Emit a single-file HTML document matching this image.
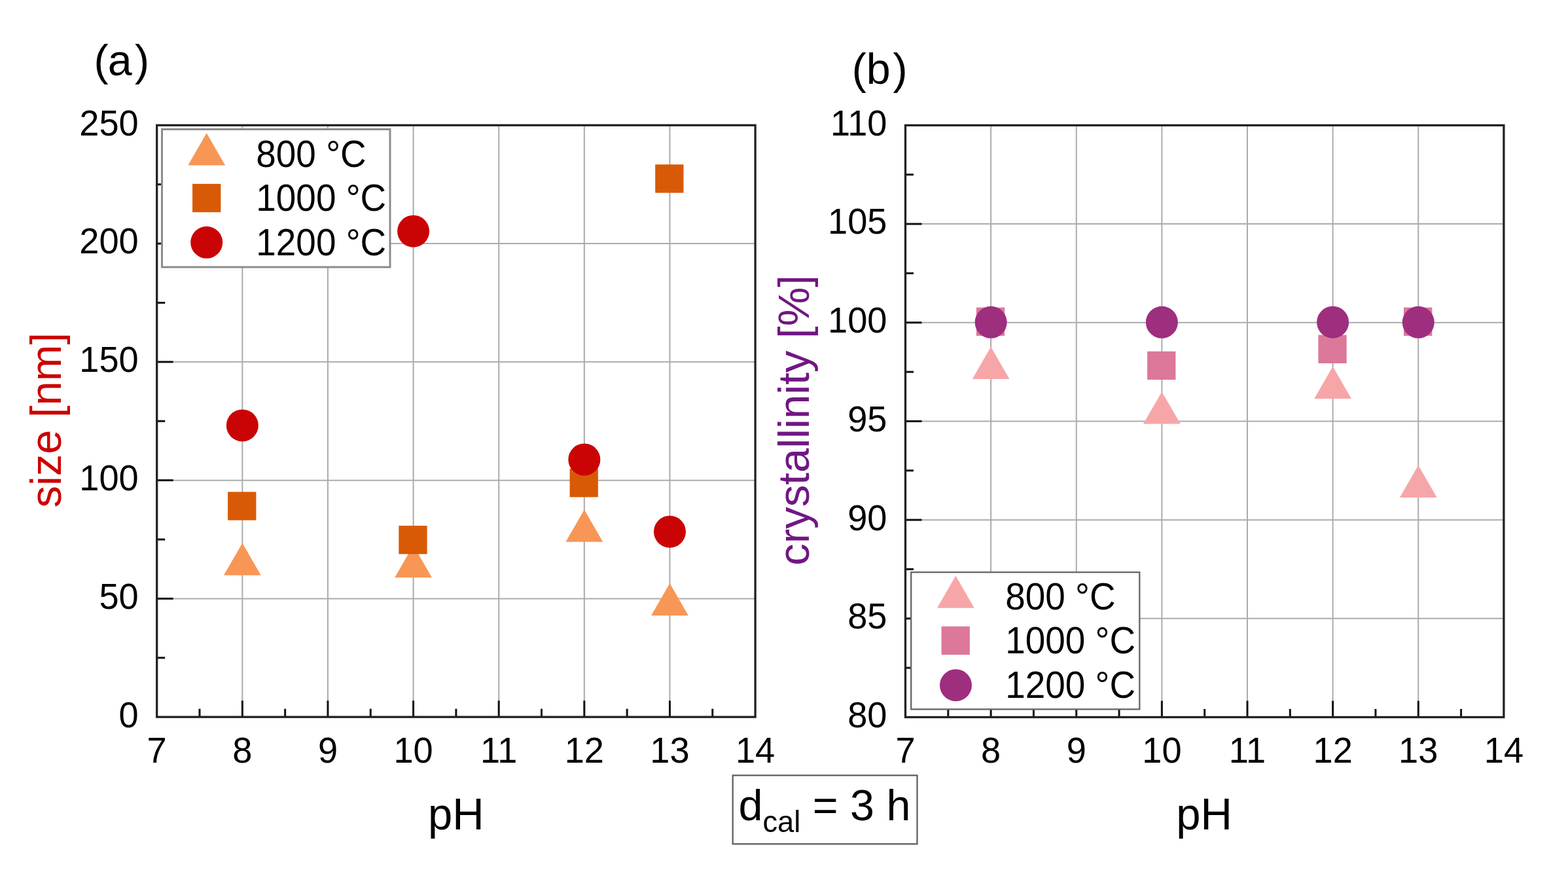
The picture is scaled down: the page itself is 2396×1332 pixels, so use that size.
<!DOCTYPE html>
<html><head><meta charset="utf-8"><title>pH chart</title>
<style>html,body{margin:0;padding:0;background:#fff;overflow:hidden}svg{display:block;filter:blur(0.55px)}</style>
</head><body>
<svg width="2396" height="1332" viewBox="0 0 2396 1332" font-family="'Liberation Sans', Arial, sans-serif" fill="#000"><rect width="2396" height="1332" fill="#fff"/><g stroke="#ababab" stroke-width="2.0"><line x1="370.33" y1="191.3" x2="370.33" y2="1095.2"/><line x1="500.96" y1="191.3" x2="500.96" y2="1095.2"/><line x1="631.59" y1="191.3" x2="631.59" y2="1095.2"/><line x1="762.21" y1="191.3" x2="762.21" y2="1095.2"/><line x1="892.84" y1="191.3" x2="892.84" y2="1095.2"/><line x1="1023.47" y1="191.3" x2="1023.47" y2="1095.2"/><line x1="239.7" y1="914.42" x2="1154.1" y2="914.42"/><line x1="239.7" y1="733.64" x2="1154.1" y2="733.64"/><line x1="239.7" y1="552.86" x2="1154.1" y2="552.86"/><line x1="239.7" y1="372.08" x2="1154.1" y2="372.08"/></g><g stroke="#111" stroke-width="3.0"><line x1="305.01" y1="1095.2" x2="305.01" y2="1082.7"/><line x1="370.33" y1="1095.2" x2="370.33" y2="1070.2"/><line x1="435.64" y1="1095.2" x2="435.64" y2="1082.7"/><line x1="500.96" y1="1095.2" x2="500.96" y2="1070.2"/><line x1="566.27" y1="1095.2" x2="566.27" y2="1082.7"/><line x1="631.59" y1="1095.2" x2="631.59" y2="1070.2"/><line x1="696.9" y1="1095.2" x2="696.9" y2="1082.7"/><line x1="762.21" y1="1095.2" x2="762.21" y2="1070.2"/><line x1="827.53" y1="1095.2" x2="827.53" y2="1082.7"/><line x1="892.84" y1="1095.2" x2="892.84" y2="1070.2"/><line x1="958.16" y1="1095.2" x2="958.16" y2="1082.7"/><line x1="1023.47" y1="1095.2" x2="1023.47" y2="1070.2"/><line x1="1088.79" y1="1095.2" x2="1088.79" y2="1082.7"/><line x1="239.7" y1="1004.81" x2="252.2" y2="1004.81"/><line x1="239.7" y1="914.42" x2="264.7" y2="914.42"/><line x1="239.7" y1="824.03" x2="252.2" y2="824.03"/><line x1="239.7" y1="733.64" x2="264.7" y2="733.64"/><line x1="239.7" y1="643.25" x2="252.2" y2="643.25"/><line x1="239.7" y1="552.86" x2="264.7" y2="552.86"/><line x1="239.7" y1="462.47" x2="252.2" y2="462.47"/><line x1="239.7" y1="372.08" x2="264.7" y2="372.08"/><line x1="239.7" y1="281.69" x2="252.2" y2="281.69"/></g><polygon points="370.33,829.5 398.73,878.7 341.93,878.7" fill="#f89656"/><polygon points="631.59,833 659.99,882.2 603.19,882.2" fill="#f89656"/><polygon points="892.84,778.5 921.24,827.7 864.44,827.7" fill="#f89656"/><polygon points="1023.47,891 1051.87,940.2 995.07,940.2" fill="#f89656"/><rect x="348.08" y="751.35" width="43.3" height="43.3" fill="#d95a06"/><rect x="609.34" y="803.05" width="43.3" height="43.3" fill="#d95a06"/><rect x="870.59" y="716.05" width="43.3" height="43.3" fill="#d95a06"/><rect x="1001.22" y="251.25" width="43.3" height="43.3" fill="#d95a06"/><circle cx="370.33" cy="649.9" r="24.5" fill="#ca0404"/><circle cx="631.59" cy="353.2" r="24.5" fill="#ca0404"/><circle cx="892.84" cy="702" r="24.5" fill="#ca0404"/><circle cx="1023.47" cy="812.2" r="24.5" fill="#ca0404"/><rect x="247.5" y="197.5" width="348.5" height="210.5" fill="#fff" stroke="#8c8c8c" stroke-width="3"/><polygon points="315.7,203.3 344.1,252.5 287.3,252.5" fill="#f89656"/><rect x="294.05" y="280.85" width="43.3" height="43.3" fill="#d95a06"/><circle cx="315.7" cy="370.3" r="24.5" fill="#ca0404"/><text transform="translate(391.3 254.9) scale(0.9600 1)" font-size="57.2">800 °C</text><text transform="translate(391.3 322) scale(0.9600 1)" font-size="57.2">1000 °C</text><text transform="translate(391.3 389.7) scale(0.9600 1)" font-size="57.2">1200 °C</text><rect x="239.7" y="191.3" width="914.4" height="903.9" fill="none" stroke="#222" stroke-width="3.3"/><text transform="translate(239.7 1165.3) scale(0.9680 1)" font-size="56" text-anchor="middle">7</text><text transform="translate(370.33 1165.3) scale(0.9680 1)" font-size="56" text-anchor="middle">8</text><text transform="translate(500.96 1165.3) scale(0.9680 1)" font-size="56" text-anchor="middle">9</text><text transform="translate(631.59 1165.3) scale(0.9680 1)" font-size="56" text-anchor="middle">10</text><text transform="translate(762.21 1165.3) scale(0.9680 1)" font-size="56" text-anchor="middle">11</text><text transform="translate(892.84 1165.3) scale(0.9680 1)" font-size="56" text-anchor="middle">12</text><text transform="translate(1023.47 1165.3) scale(0.9680 1)" font-size="56" text-anchor="middle">13</text><text transform="translate(1154.1 1165.3) scale(0.9680 1)" font-size="56" text-anchor="middle">14</text><text transform="translate(211.7 1110.6) scale(0.9680 1)" font-size="56" text-anchor="end">0</text><text transform="translate(211.7 929.82) scale(0.9680 1)" font-size="56" text-anchor="end">50</text><text transform="translate(211.7 749.04) scale(0.9680 1)" font-size="56" text-anchor="end">100</text><text transform="translate(211.7 568.26) scale(0.9680 1)" font-size="56" text-anchor="end">150</text><text transform="translate(211.7 387.48) scale(0.9680 1)" font-size="56" text-anchor="end">200</text><text transform="translate(211.7 206.7) scale(0.9680 1)" font-size="56" text-anchor="end">250</text><g stroke="#ababab" stroke-width="2.0"><line x1="1514.13" y1="191.4" x2="1514.13" y2="1095.5"/><line x1="1644.76" y1="191.4" x2="1644.76" y2="1095.5"/><line x1="1775.39" y1="191.4" x2="1775.39" y2="1095.5"/><line x1="1906.01" y1="191.4" x2="1906.01" y2="1095.5"/><line x1="2036.64" y1="191.4" x2="2036.64" y2="1095.5"/><line x1="2167.27" y1="191.4" x2="2167.27" y2="1095.5"/><line x1="1383.5" y1="944.82" x2="2297.9" y2="944.82"/><line x1="1383.5" y1="794.13" x2="2297.9" y2="794.13"/><line x1="1383.5" y1="643.45" x2="2297.9" y2="643.45"/><line x1="1383.5" y1="492.77" x2="2297.9" y2="492.77"/><line x1="1383.5" y1="342.08" x2="2297.9" y2="342.08"/></g><g stroke="#111" stroke-width="3.0"><line x1="1448.81" y1="1095.5" x2="1448.81" y2="1083"/><line x1="1514.13" y1="1095.5" x2="1514.13" y2="1070.5"/><line x1="1579.44" y1="1095.5" x2="1579.44" y2="1083"/><line x1="1644.76" y1="1095.5" x2="1644.76" y2="1070.5"/><line x1="1710.07" y1="1095.5" x2="1710.07" y2="1083"/><line x1="1775.39" y1="1095.5" x2="1775.39" y2="1070.5"/><line x1="1840.7" y1="1095.5" x2="1840.7" y2="1083"/><line x1="1906.01" y1="1095.5" x2="1906.01" y2="1070.5"/><line x1="1971.33" y1="1095.5" x2="1971.33" y2="1083"/><line x1="2036.64" y1="1095.5" x2="2036.64" y2="1070.5"/><line x1="2101.96" y1="1095.5" x2="2101.96" y2="1083"/><line x1="2167.27" y1="1095.5" x2="2167.27" y2="1070.5"/><line x1="2232.59" y1="1095.5" x2="2232.59" y2="1083"/><line x1="1383.5" y1="1020.16" x2="1396" y2="1020.16"/><line x1="1383.5" y1="944.82" x2="1408.5" y2="944.82"/><line x1="1383.5" y1="869.48" x2="1396" y2="869.48"/><line x1="1383.5" y1="794.13" x2="1408.5" y2="794.13"/><line x1="1383.5" y1="718.79" x2="1396" y2="718.79"/><line x1="1383.5" y1="643.45" x2="1408.5" y2="643.45"/><line x1="1383.5" y1="568.11" x2="1396" y2="568.11"/><line x1="1383.5" y1="492.77" x2="1408.5" y2="492.77"/><line x1="1383.5" y1="417.42" x2="1396" y2="417.42"/><line x1="1383.5" y1="342.08" x2="1408.5" y2="342.08"/><line x1="1383.5" y1="266.74" x2="1396" y2="266.74"/></g><polygon points="1514.13,529.75 1542.53,578.95 1485.73,578.95" fill="#f7a6a8"/><polygon points="1775.39,598.4 1803.79,647.6 1746.99,647.6" fill="#f7a6a8"/><polygon points="2036.64,559.75 2065.04,608.95 2008.24,608.95" fill="#f7a6a8"/><polygon points="2167.27,710.85 2195.67,760.05 2138.87,760.05" fill="#f7a6a8"/><rect x="1491.88" y="469.65" width="43.3" height="43.3" fill="#dc789a"/><rect x="1753.14" y="536.75" width="43.3" height="43.3" fill="#dc789a"/><rect x="2014.39" y="511.65" width="43.3" height="43.3" fill="#dc789a"/><rect x="2145.02" y="469.65" width="43.3" height="43.3" fill="#dc789a"/><circle cx="1514.13" cy="492.3" r="24.5" fill="#9e2e7e"/><circle cx="1775.39" cy="492.3" r="24.5" fill="#9e2e7e"/><circle cx="2036.64" cy="492.2" r="24.5" fill="#9e2e7e"/><circle cx="2167.27" cy="492.3" r="24.5" fill="#9e2e7e"/><rect x="1392.2" y="874.1" width="349.1" height="209.3" fill="#fff" stroke="#6a6a6a" stroke-width="2.4"/><polygon points="1460.4,879.6 1488.8,928.8 1432,928.8" fill="#f7a6a8"/><rect x="1438.55" y="956.85" width="43.3" height="43.3" fill="#dc789a"/><circle cx="1460.5" cy="1046.7" r="24.5" fill="#9e2e7e"/><text transform="translate(1536.2 930.8) scale(0.9600 1)" font-size="57.2">800 °C</text><text transform="translate(1536.2 998.3) scale(0.9600 1)" font-size="57.2">1000 °C</text><text transform="translate(1536.2 1066) scale(0.9600 1)" font-size="57.2">1200 °C</text><rect x="1383.5" y="191.4" width="914.4" height="904.1" fill="none" stroke="#222" stroke-width="3.3"/><text transform="translate(1383.5 1165.3) scale(0.9680 1)" font-size="56" text-anchor="middle">7</text><text transform="translate(1514.13 1165.3) scale(0.9680 1)" font-size="56" text-anchor="middle">8</text><text transform="translate(1644.76 1165.3) scale(0.9680 1)" font-size="56" text-anchor="middle">9</text><text transform="translate(1775.39 1165.3) scale(0.9680 1)" font-size="56" text-anchor="middle">10</text><text transform="translate(1906.01 1165.3) scale(0.9680 1)" font-size="56" text-anchor="middle">11</text><text transform="translate(2036.64 1165.3) scale(0.9680 1)" font-size="56" text-anchor="middle">12</text><text transform="translate(2167.27 1165.3) scale(0.9680 1)" font-size="56" text-anchor="middle">13</text><text transform="translate(2297.9 1165.3) scale(0.9680 1)" font-size="56" text-anchor="middle">14</text><text transform="translate(1355.5 1110.9) scale(0.9680 1)" font-size="56" text-anchor="end">80</text><text transform="translate(1355.5 960.22) scale(0.9680 1)" font-size="56" text-anchor="end">85</text><text transform="translate(1355.5 809.53) scale(0.9680 1)" font-size="56" text-anchor="end">90</text><text transform="translate(1355.5 658.85) scale(0.9680 1)" font-size="56" text-anchor="end">95</text><text transform="translate(1355.5 508.17) scale(0.9680 1)" font-size="56" text-anchor="end">100</text><text transform="translate(1355.5 357.48) scale(0.9680 1)" font-size="56" text-anchor="end">105</text><text transform="translate(1355.5 206.8) scale(0.9680 1)" font-size="56" text-anchor="end">110</text><text transform="translate(696.9 1267.2) scale(0.9680 1)" font-size="69.3" text-anchor="middle">pH</text><text transform="translate(1840 1267) scale(0.9680 1)" font-size="69.3" text-anchor="middle">pH</text><text font-size="66.4" y="115"><tspan x="143.6">(</tspan><tspan x="164.7">a</tspan><tspan x="206.1">)</tspan></text><text font-size="66.4" y="127.5"><tspan x="1301.8">(</tspan><tspan x="1323.7">b</tspan><tspan x="1364.5">)</tspan></text><text transform="translate(92.5 775.5) rotate(-90) scale(1.0100 1)" font-size="66.2" fill="#cc0000">size [nm]</text><text transform="translate(1236.3 863.8) rotate(-90) scale(1.0140 1)" font-size="66.2" fill="#701782">crystallinity [%]</text><rect x="1119.7" y="1184.4" width="281.8" height="104.8" fill="#fff" stroke="#5a5a5a" stroke-width="2.2"/><text transform="translate(1128.4 1252.5)" font-size="66.5">d<tspan font-size="45.3" dy="18.5">cal</tspan><tspan dy="-18.5"> = 3 h</tspan></text></svg>
</body></html>
